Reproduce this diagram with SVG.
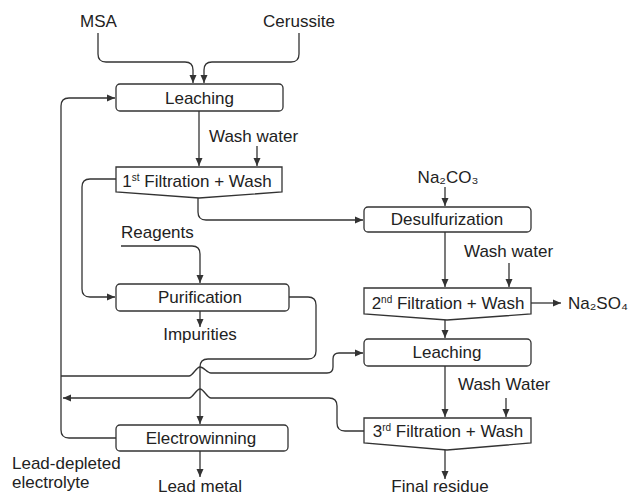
<svg xmlns="http://www.w3.org/2000/svg" width="628" height="495" viewBox="0 0 628 495">
<defs>
<marker id="ah" markerUnits="userSpaceOnUse" markerWidth="9" markerHeight="8" refX="8" refY="4" orient="auto">
<path d="M0,0.5 L8,4 L0,7.5 z" fill="#333"/>
</marker>
<style>
.box{fill:#fff;stroke:#333;stroke-width:1.3}
.c{fill:none;stroke:#333;stroke-width:1.3;marker-end:url(#ah)}
.n{fill:none;stroke:#333;stroke-width:1.3}
text{font-family:"Liberation Sans",Arial,sans-serif;font-size:17px;fill:#222}
.m{text-anchor:middle}
.s{font-size:10px}
</style>
</defs>
<rect width="628" height="495" fill="#fff"/>
<g id="connectors">
<path class="c" d="M98,33 V54 Q98,62 106,62 H185 Q193,62 193,70 V83"/>
<path class="c" d="M299,33 V54 Q299,62 291,62 H212 Q204,62 204,70 V83"/>
<path class="c" d="M116,438 H69 Q61,438 61,430 V106 Q61,98 69,98 H115"/>
<path class="c" d="M199,111 V166"/>
<path class="c" d="M257,146 V166"/>
<path class="c" d="M116,179 H90 Q82,179 82,187 V289 Q82,297 90,297 H115"/>
<path class="c" d="M198,198 V212 Q198,220 206,220 H363"/>
<path class="c" d="M445,187 V206"/>
<path class="c" d="M445,232 V287"/>
<path class="c" d="M509,263 V287"/>
<path class="c" d="M531,303 H561"/>
<path class="c" d="M445,320 V338"/>
<path class="c" d="M121,246 H192 Q200,246 200,254 V283"/>
<path class="c" d="M200,311 V327"/>
<path class="c" d="M289,297 H308 Q316,297 316,305 V351 Q316,359 308,359 H208 Q200,359 200,367 V424"/>
<path class="c" d="M61,376 H189 C193,376 196,367 200,367 C204,367 207,373 211,373 H327 Q333,373 333,367 V359 Q333,353 339,353 H363"/>
<path class="c" d="M364,431 H345 Q337,431 337,423 V406 Q337,398 329,398 H211 C207,398 204,389 200,389 C196,389 193,398 189,398 H63"/>
<path class="c" d="M445,366 V417"/>
<path class="c" d="M506,398 V417"/>
<path class="c" d="M445,450 V479"/>
<path class="c" d="M200,451 V477"/>
</g>
<g id="leaching1"><rect class="box" x="116" y="84" width="167" height="27" rx="4"/><text class="m" x="199.5" y="104">Leaching</text></g>
<g id="filtration1"><polygon class="box" points="116,167 282,167 282,192 199,198 116,192"/><text class="m" x="197" y="187">1<tspan class="s" dy="-6">st</tspan><tspan dy="6"> Filtration + Wash</tspan></text></g>
<g id="desulfurization"><rect class="box" x="364" y="207" width="167" height="25" rx="4"/><text class="m" x="447" y="225">Desulfurization</text></g>
<g id="filtration2"><polygon class="box" points="364,288 531,288 531,314 447,320 364,314"/><text class="m" x="448" y="309">2<tspan class="s" dy="-6">nd</tspan><tspan dy="6"> Filtration + Wash</tspan></text></g>
<g id="purification"><rect class="box" x="116" y="284" width="173" height="27" rx="4"/><text class="m" x="200" y="303">Purification</text></g>
<g id="leaching2"><rect class="box" x="364" y="339" width="167" height="27" rx="4"/><text class="m" x="447" y="358">Leaching</text></g>
<g id="filtration3"><polygon class="box" points="364,418 531,418 531,443 447,450 364,443"/><text class="m" x="448" y="437">3<tspan class="s" dy="-6">rd</tspan><tspan dy="6"> Filtration + Wash</tspan></text></g>
<g id="electrowinning"><rect class="box" x="116" y="425" width="172" height="26" rx="4"/><text class="m" x="201" y="444">Electrowinning</text></g>
<g id="labels">
<text class="m" x="98.5" y="27">MSA</text>
<text class="m" x="299" y="27">Cerussite</text>
<text x="209" y="142">Wash water</text>
<text class="m" x="448" y="183">Na₂CO₃</text>
<text x="464" y="257">Wash water</text>
<text x="568" y="309">Na₂SO₄</text>
<text x="121" y="238">Reagents</text>
<text class="m" x="200" y="340">Impurities</text>
<text x="458" y="390">Wash Water</text>
<text class="m" x="440" y="492">Final residue</text>
<text x="12" y="469">Lead-depleted</text>
<text x="12" y="488">electrolyte</text>
<text class="m" x="200" y="492">Lead metal</text>
</g>
</svg>
